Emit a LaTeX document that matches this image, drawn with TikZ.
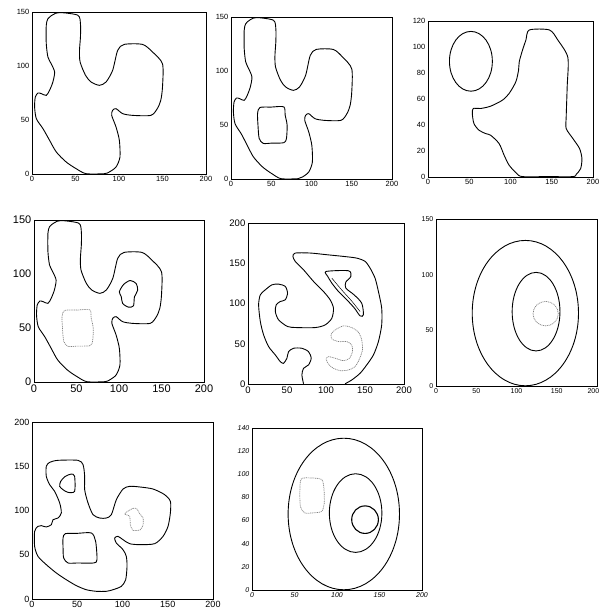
\documentclass[tikz,border=0pt]{standalone}
\usepackage{fontspec}
\setmainfont{Liberation Sans}
\begin{document}
\begin{tikzpicture}[x=1pt,y=-1pt]
\useasboundingbox[fill=white] (0,0) rectangle (600,616);
\tikzset{
  cont/.style={black, line width=0.9pt},
  dotc/.style={gray, line width=0.7pt, dash pattern=on 1pt off 0.8pt},
  frame/.style={black, line width=0.6pt},
  sm/.style={smooth cycle, tension=0.45}
}
\newcommand\myaxes[5]{%
  \draw[frame] (0,0) rectangle (200,#2);
  \foreach \v in {#3} \node[anchor=north, inner sep=0pt, yshift=-2.5pt, font=#5] (#1x\v) at (\v,0) {\v};
  \foreach \v in {#4} \node[anchor=east, inner sep=0pt, xshift=-2.5pt, font=#5] (#1y\v) at (0,\v) {\v};
}
\newcommand\shapeA{%
  \draw[cont] plot[sm] coordinates {(31.7,149.5) (52.7,147) (55.7,139) (55.7,127) (54.6,114.5) (55.3,103.7) (61.5,91.4) (67.9,85.2) (77.5,82.1) (85.1,85.2) (92.7,96) (98.5,114.5) (106,120) (127,120) (138.5,113) (150,102) (150,80.6) (148,68.2) (144,60.5) (136.6,54.3) (115.6,54.3) (104.2,55.9) (96.6,60.5) (92.7,59) (91.6,54.3) (96.6,43.5) (100.4,31.2) (101.1,15.7) (96.6,6.5) (88.9,1.9) (83.2,0.3) (62.2,0.3) (50.8,4.9) (39.3,11.1) (27.9,20.4) (20.2,31.2) (12.6,42) (5,51.2) (3,62) (3.8,71.3) (6.9,75) (10.7,74.4) (16.4,72.8) (20.2,77.5) (24,85.2) (26,94.4) (22.1,102) (18.3,108.3) (16.4,120.7) (16.4,137.7) (18.3,143.8) (24,147.5)};
}
\newcommand\squareA[1]{%
  \draw[#1] plot[sm] coordinates {(35.9,66.2) (50,66.6) (65.6,66.8) (67.3,59.1) (69.7,49.9) (68.9,37.6) (65.6,33.6) (50,33.2) (40,33) (35,37.6) (33.5,50) (33,60.7)};
}
% ---------- Panel 1
\begin{scope}[shift={(32,174)}, x=0.87pt, y=1.08pt]
  \myaxes{a}{150}{0,50,100,150,200}{0,50,100,150}{{\fontsize{7.5}{8}\selectfont}}
  \shapeA
\end{scope}
% ---------- Panel 2
\begin{scope}[shift={(231,179)}, x=0.805pt, y=1.08pt]
  \myaxes{b}{150}{0,50,100,150,200}{0,50,100,150}{{\fontsize{7.5}{8}\selectfont}}
  \shapeA
  \squareA{cont}
\end{scope}
% ---------- Panel 3
\begin{scope}[shift={(428,177)}, x=0.825pt, y=1.3pt]
  \myaxes{c}{120}{0,50,100,150,200}{0,20,40,60,80,100,120}{{\fontsize{7.5}{8}\selectfont}}
  \draw[cont] (52,89) ellipse [x radius=26, y radius=23];
  \draw[cont] plot[sm] coordinates {(122.8,113.1) (147.2,113.1) (157.3,105.4) (169.5,92) (168.7,69.4) (167.5,46.3) (167.5,37.3) (175.6,29.6) (183.7,21.9) (186.6,14.1) (185,6.4) (179.7,2.1) (175.6,0.3) (145,0.3) (114.6,0.3) (107.7,2.6) (98.4,9) (92.3,16.7) (86.2,25.7) (76,32.1) (69.9,33.4) (61.8,36) (55.7,41.1) (53.7,48.8) (54.9,52.7) (63.8,52.7) (76,54.5) (90.2,59.1) (98.4,64.3) (106.5,73.3) (109.8,82.3) (110.6,88.7) (114.6,97.7) (118.7,105.4)};
\end{scope}
% ---------- Panel 4
\begin{scope}[shift={(34,382)}, x=0.85pt, y=1.08pt]
  \myaxes{d}{150}{0,50,100,150,200}{0,50,100,150}{{\fontsize{11}{11}\selectfont}}
  \shapeA
  \squareA{dotc}
  \draw[cont] plot[sm] coordinates {(105.4,90.3) (113.2,94) (120.2,91.2) (122,85) (118.2,78.9) (117,70.5) (111.2,69.3) (104.3,72.7) (102.7,78.9) (100.4,83.5)};
\end{scope}
% ---------- Panel 5
\begin{scope}[shift={(248,384)}, x=0.78pt, y=0.805pt]
  \myaxes{e}{200}{0,50,100,150,200}{0,50,100,150,200}{{\fontsize{9.5}{10}\selectfont}}
  \draw[cont] plot[smooth, tension=0.45] coordinates {(124.5,0.3) (133,5) (143.7,13.3) (152.2,23.7) (160.8,36.1) (167.2,52.7) (171.4,73.4) (171.4,94.2) (167.2,114.9) (162.9,131.5) (156.5,144) (150.1,152.3) (139.4,156.4) (122.4,158.5) (101.1,160.6) (79.7,162.7) (60.6,162.7) (57.6,158.5) (60.6,152.3) (71.2,141.9) (84,127.4) (96.8,114.9) (105.3,104.6) (109.6,94.2) (107.5,81.7) (98.9,73.4) (86.1,70.1) (62.7,70.1) (50.7,71.4) (39.2,79.7) (35,90) (36.2,98.3) (41.4,102.5) (47.8,104.6) (50.7,112.9) (47.8,121.2) (39.2,124.1) (30.7,123.2) (22.2,117) (15.8,110.8) (13.6,98.3) (15.8,77.6) (20,61) (26.4,46.5) (35,36.1) (41.4,27.8) (45.6,25.7) (49.9,32) (52,40.2) (58.4,44.4) (69.1,44.4) (77.6,40.2) (81,32) (77.6,23.7) (71.2,19.5) (69.1,11.2) (71.2,0.3)};
  \draw[cont] plot[sm] coordinates {(100.2,139.8) (128.8,140.7) (131.8,133.6) (125.4,126.6) (125.4,119.1) (136,110.8) (145.8,100.4) (148,85.9) (143.7,84.6) (136.5,94.2) (126.7,104.6) (116,114.9) (107.5,125.3) (102.3,133.6)};
  \draw[cont, line width=0.5pt] plot[smooth] coordinates {(107.5,131.5) (120,117) (133,103) (143.7,90)};
  \draw[dotc] plot[sm] coordinates {(111.7,67.2) (122.4,72.2) (133,70.1) (141.6,64.3) (145.8,54.8) (146.7,42.3) (142.9,31.1) (137.3,21.6) (128.8,17.4) (118.1,16.6) (109.6,19.5) (103.2,24.5) (100.2,31.1) (103.2,34) (111.7,32) (122.4,29) (130.1,32) (133.9,40.2) (133,48.5) (126.7,52.7) (116,52.7) (107.5,56) (106.6,61.8)};
\end{scope}
% ---------- Panel 6
\begin{scope}[shift={(436,386)}, x=0.805pt, y=1.113pt]
  \myaxes{f}{150}{0,50,100,150}{0,50,100,150}{{\fontsize{7}{7}\selectfont}}
  \node[anchor=north east, inner sep=0pt, yshift=-2.5pt, font={\fontsize{7}{7}\selectfont}] (fx200) at (203,0) {200};
  \draw[cont] (111,65.5) ellipse [x radius=66, y radius=65.3];
  \draw[cont] (124.3,66.8) ellipse [x radius=29.7, y radius=35.3];
  \draw[dotc] (136.2,65) ellipse [x radius=15.7, y radius=11];
\end{scope}
% ---------- Panel 7
\begin{scope}[shift={(32,599)}, x=0.905pt, y=0.885pt]
  \myaxes{g}{200}{0,50,100,150,200}{0,50,100,150,200}{{\fontsize{9}{9}\selectfont}}
  \draw[cont] plot[sm] coordinates {(15.8,149.9) (19.5,154.4) (28.7,156.7) (50.8,156.7) (56.4,151.8) (58.2,138.6) (58.2,123.5) (61.9,108.5) (67.4,95.3) (74.8,91.5) (82.1,91.5) (87.7,95.3) (93.2,112.2) (100.6,124.3) (107.9,127.3) (119,126.6) (133.7,124.3) (146.6,117.9) (152.9,110.4) (152.9,97.2) (150.3,82.1) (144.8,70.8) (135.5,62.5) (119,61.4) (107.9,62.5) (100.6,67) (95,70.8) (91.3,68.9) (93.2,63.3) (100.6,55.7) (104.2,48.2) (105,36.9) (103.5,21.8) (98.7,14.3) (89.5,10.5) (82.1,8.7) (71.1,8.7) (60,10.5) (49,15.1) (37.9,21.8) (26.9,29.4) (15.8,38.8) (6.6,48.2) (2.9,59.5) (2.9,76.5) (6.6,82.1) (10.3,82.9) (15.8,81.4) (21.4,84) (23.2,89.6) (28.7,91.5) (32.4,97.2) (30.6,108.5) (25,121.7) (19.5,129.2) (15.8,138.6)};
  \draw[cont] plot[sm] coordinates {(31.7,133) (36.8,138.6) (43.5,141.2) (47.1,138.6) (47.1,121.7) (39.8,120.5) (34.3,123.5) (30.6,127.3)};
  \draw[cont] plot[sm] coordinates {(36.8,73.8) (50,74.2) (65.6,74.6) (70.3,65.2) (71.8,44.4) (68.1,40.7) (50,40.7) (39.8,40.7) (35,46.3) (34.3,58) (34.3,68.9)};
  \draw[dotc] plot[sm] coordinates {(102.4,96.4) (111.6,102.4) (116,101.7) (119,96.4) (122.7,91.5) (122.7,84) (119.7,78.3) (111.6,77.6) (108.7,84) (107.9,93.4)};
\end{scope}
% ---------- Panel 8
\begin{scope}[shift={(252,590)}, x=0.85pt, y=1.157pt]
  \myaxes{h}{140}{0,50,100,150,200}{0,20,40,60,80,100,120,140}{{\fontsize{7}{7}\selectfont\itshape}}
  \draw[cont] (108,65.7) ellipse [x radius=65.5, y radius=65.5];
  \draw[cont] (121.9,66.5) ellipse [x radius=30.9, y radius=34];
  \draw[cont, line width=1.1pt] (133,60.8) ellipse [x radius=15.7, y radius=11.9];
  \draw[dotc] plot[sm] coordinates {(58,96) (70,96.8) (82,95.5) (84.6,88) (85,75) (82,68) (72,66.7) (62,66.7) (57,72) (56.3,85)};
\end{scope}
\end{tikzpicture}
\end{document}
